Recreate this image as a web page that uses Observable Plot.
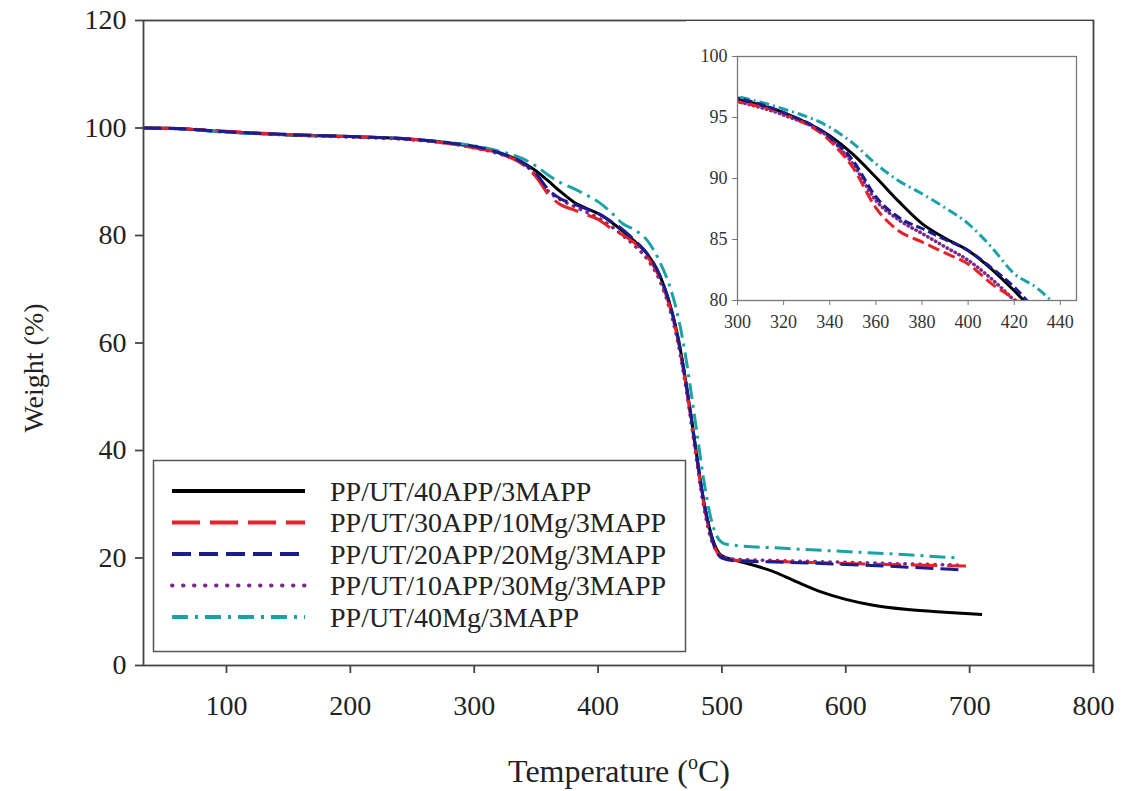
<!DOCTYPE html>
<html><head><meta charset="utf-8">
<script src="https://cdn.jsdelivr.net/npm/d3@7"></script>
<script src="https://cdn.jsdelivr.net/npm/@observablehq/plot@0.6"></script>
<style>
body{margin:0;background:#fff}
#wrap{position:relative;width:1126px;height:791px}
#inset{position:absolute;left:686px;top:21px}
svg text{font-family:"Liberation Serif","Times New Roman",serif !important}
</style>
</head><body><div id="wrap"><div id="main"></div><div id="inset"></div></div>
<script>
// ---- Data (temperature °C, weight %) ----
const seriesNames = ["PP/UT/40APP/3MAPP","PP/UT/30APP/10Mg/3MAPP","PP/UT/20APP/20Mg/3MAPP","PP/UT/10APP/30Mg/3MAPP","PP/UT/40Mg/3MAPP"];
const xTicks = [100,200,300,400,500,600,700,800];
const yTicks = [0,20,40,60,80,100,120];
const insetXTicks = [300,320,340,360,380,400,420,440];
const insetYTicks = [80,85,90,95,100];

const s40APP = [[33,100],[60,99.9],[100,99.3],[150,98.7],[200,98.4],[250,97.9],[280,97.2],[300,96.5],[320,95.4],[340,93.5],[350,92],[360,90.1],[370,88.1],[380,86.3],[390,85.1],[400,84.1],[410,82.6],[420,80.8],[430,78.8],[440,76.5],[450,72.5],[460,65.5],[465,60.5],[470,54],[475,46.5],[480,38.5],[485,31],[490,25.5],[495,22],[500,20.4],[510,19.6],[520,19],[540,17.6],[560,15.6],[580,13.7],[600,12.3],[620,11.3],[650,10.4],[680,9.9],[710,9.5]];
const s30APP10Mg = [[33,100],[60,99.9],[100,99.4],[150,98.8],[200,98.4],[250,97.9],[280,97.1],[300,96.3],[320,95.3],[340,93.1],[350,90.9],[360,87.6],[370,85.7],[380,84.8],[390,83.9],[400,83],[410,81.4],[420,80.1],[430,78.5],[440,76],[450,72],[460,65],[465,60],[470,53.5],[475,46],[480,38],[485,30.5],[490,25],[495,21.5],[500,20.2],[510,19.6],[550,19.3],[600,19],[650,18.7],[697,18.5]];
const s20APP20Mg = [[33,100],[60,99.9],[100,99.3],[150,98.8],[200,98.4],[250,97.9],[280,97.2],[300,96.6],[320,95.4],[340,93.4],[350,91.5],[360,88.5],[370,86.8],[380,85.9],[390,85],[400,84.1],[410,82.7],[420,81.1],[430,79],[440,76.5],[450,72.5],[460,65.5],[465,60.5],[470,54],[475,46.5],[480,38.5],[485,31],[490,25.5],[495,21.5],[500,20],[510,19.5],[550,19.2],[600,18.8],[650,18.3],[693,17.8]];
const s10APP30Mg = [[33,100],[60,99.9],[100,99.3],[150,98.7],[200,98.3],[250,97.8],[280,97.1],[300,96.3],[320,95.2],[340,93.3],[350,91.2],[360,88.2],[370,86.6],[380,85.5],[390,84.4],[400,83.3],[410,81.8],[420,80],[430,78],[440,75.5],[450,71.5],[460,64.5],[465,59.5],[470,53],[475,45.5],[480,37.5],[485,30],[490,24.5],[495,21.5],[500,20.3],[510,19.8],[550,19.5],[600,19.2],[650,18.9],[690,18.7]];
const s40Mg = [[33,100],[60,99.8],[100,99.2],[150,98.7],[200,98.4],[250,97.9],[280,97.3],[300,96.7],[320,95.7],[340,94.2],[350,92.9],[360,91.2],[370,89.8],[380,88.75],[390,87.6],[400,86.3],[410,84.4],[420,82.2],[430,81],[440,79],[450,75],[460,69],[465,64.5],[470,58.5],[475,51],[480,43],[485,35],[490,28.5],[495,24.5],[500,22.9],[505,22.5],[550,21.8],[600,21.2],[650,20.6],[690,20]];

// ---- Styles ----
const styles = [
  {data: s40APP,      color: "#000000", dash: null,        inDash: null,        cap: "butt",  w: 3},
  {data: s40Mg,       color: "#1aa3a6", dash: "16,6,3,6",  inDash: "10,4,2,4",  cap: "butt",  w: 3},
  {data: s10APP30Mg,  color: "#7a2a8c", dash: "0.5,7",     inDash: "0.5,4",     cap: "round", w: 3.5},
  {data: s30APP10Mg,  color: "#e8202a", dash: "26,10",     inDash: "12,5",      cap: "butt",  w: 3},
  {data: s20APP20Mg,  color: "#1c1c8f", dash: "18,7",      inDash: "9,4",       cap: "butt",  w: 3}
];
const legendOrder = [
  {name: seriesNames[0], color: "#000000", dash: null, cap: "butt", w: 4},
  {name: seriesNames[1], color: "#e8202a", dash: "28,10", cap: "butt", w: 4},
  {name: seriesNames[2], color: "#1c1c8f", dash: "19,8", cap: "butt", w: 4},
  {name: seriesNames[3], color: "#7a2a8c", dash: "0.5,10.5", cap: "round", w: 4},
  {name: seriesNames[4], color: "#1aa3a6", dash: "16,7,3,7", cap: "butt", w: 4}
];

const FONT = '"Liberation Serif", "Times New Roman", serif';

const main = Plot.plot({
  width: 1126, height: 791,
  marginLeft: 143, marginRight: 33, marginTop: 20, marginBottom: 126,
  style: `font-family: ${FONT}; font-size: 28px; color: #222; background: white;`,
  x: {domain: [33, 800]},
  y: {domain: [0, 120]},
  marks: [
    ...styles.map(s => Plot.line(s.data, {x: d => d[0], y: d => d[1], stroke: s.color, strokeWidth: s.w,
      strokeDasharray: s.dash || undefined, strokeLinecap: s.cap, curve: "monotone-x"})),
    Plot.frame({stroke: "#444", strokeWidth: 1.8}),
    Plot.axisX({ticks: xTicks, tickSize: 8, tickPadding: 22, label: null, stroke: "#444", strokeWidth: 1.8}),
    Plot.axisY({ticks: yTicks, tickSize: 8, tickPadding: 9, label: null, stroke: "#444", strokeWidth: 1.8})
  ]
});
document.getElementById("main").appendChild(main);

const svg = d3.select(main);
// axis titles
svg.append("text").attr("transform", "translate(33,368) rotate(-90)")
  .attr("text-anchor", "middle").attr("dominant-baseline", "central")
  .style("font-size", "28px").attr("fill", "#222").text("Weight (%)");
const xt = svg.append("text").attr("x", 619).attr("y", 782).attr("text-anchor", "middle")
  .style("font-size", "32px").attr("fill", "#222");
xt.append("tspan").text("Temperature (");
xt.append("tspan").attr("dy", -13).style("font-size", "20px").text("o");
xt.append("tspan").attr("dy", 13).text("C)");

// legend
const lg = svg.append("g");
lg.append("rect").attr("x", 153.5).attr("y", 460.5).attr("width", 532).attr("height", 191)
  .attr("fill", "white").attr("stroke", "#555").attr("stroke-width", 1.5);
legendOrder.forEach((s, i) => {
  const y = 491 + i * 31.5;
  lg.append("line").attr("x1", 172).attr("x2", 305).attr("y1", y).attr("y2", y)
    .attr("stroke", s.color).attr("stroke-width", s.w).attr("stroke-linecap", s.cap)
    .attr("stroke-dasharray", s.dash);
  lg.append("text").attr("x", 330).attr("y", y).attr("text-anchor", "start").attr("dominant-baseline", "central")
    .style("font-size", "28px").attr("fill", "#222").text(s.name);
});

// inset
const inset = Plot.plot({
  width: 406, height: 323,
  marginLeft: 51, marginRight: 16, marginTop: 35, marginBottom: 44,
  style: `font-family: ${FONT}; font-size: 18px; color: #333; background: white;`,
  x: {domain: [300, 447]},
  y: {domain: [80, 100]},
  marks: [
    ...styles.map(s => Plot.line(s.data, {x: d => d[0], y: d => d[1], stroke: s.color, strokeWidth: s.w,
      strokeDasharray: s.inDash || undefined, strokeLinecap: s.cap, curve: "monotone-x", clip: true})),
    Plot.frame({stroke: "#777", strokeWidth: 1.3}),
    Plot.axisX({ticks: insetXTicks, tickSize: 5, tickPadding: 10, label: null, stroke: "#777"}),
    Plot.axisY({ticks: insetYTicks, tickSize: 5, tickPadding: 5, label: null, stroke: "#777"})
  ]
});
document.getElementById("inset").appendChild(inset);
</script>
</body></html>
